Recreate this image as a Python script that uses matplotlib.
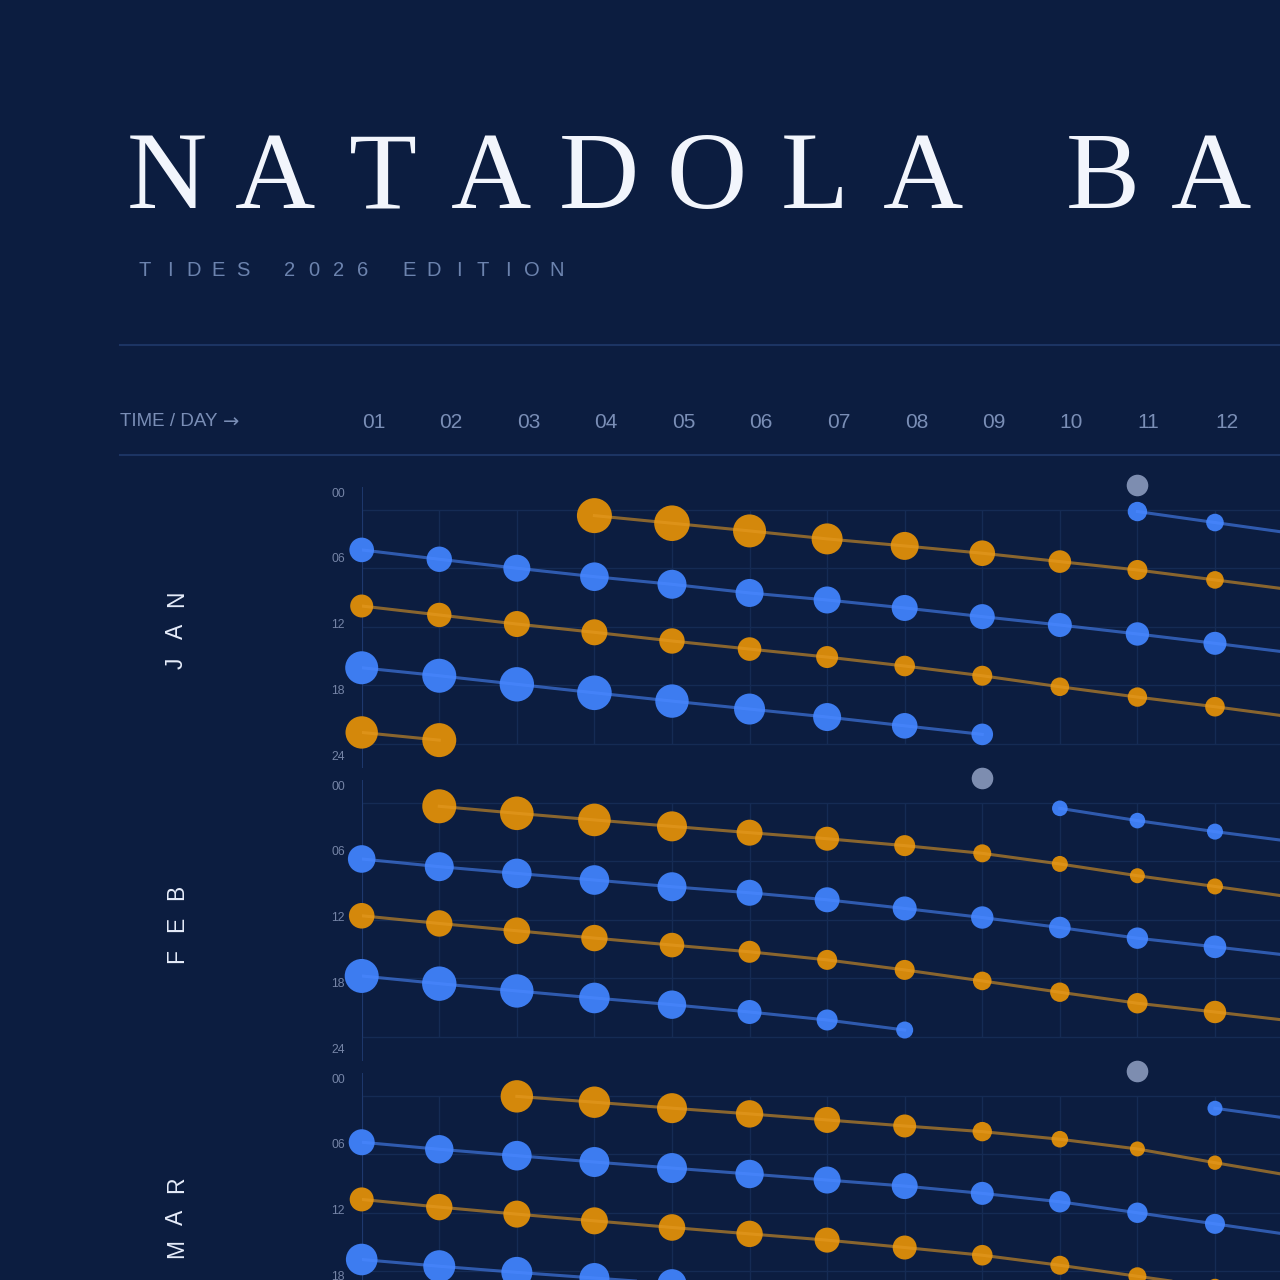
import numpy as np
import matplotlib
matplotlib.use("Agg")
import matplotlib.pyplot as plt
from matplotlib import transforms
from matplotlib.lines import Line2D

nan = np.nan

# days shown on the sheet; day 13 sits just past the right edge (line continuation only)
DAYS = np.arange(1, 14)
DAY_LABELS = [f"{d:02d}" for d in DAYS[:-1]]
HOUR_LABELS = ["00", "06", "12", "18", "24"]
MONTHS = ["JAN", "FEB", "MAR"]

# --- JAN : tide times (hour of day) and tide magnitude (m) ---
jan_hw1_t = [nan, nan, nan, 0.59, 1.37, 2.16, 2.98, 3.70, 4.45, 5.31, 6.17, 7.19, 8.22]
jan_hw1_m = [nan, nan, nan, 1.75, 1.78, 1.65, 1.55, 1.40, 1.28, 1.13, 1.00, 0.88, 0.80]
jan_lw1_t = [4.11, 5.07, 5.99, 6.86, 7.64, 8.53, 9.25, 10.07, 10.96, 11.82, 12.74, 13.70, 14.69]
jan_lw1_m = [1.23, 1.27, 1.35, 1.43, 1.45, 1.40, 1.35, 1.30, 1.25, 1.20, 1.17, 1.15, 1.12]
jan_hw2_t = [9.87, 10.79, 11.72, 12.57, 13.46, 14.29, 15.11, 16.03, 17.03, 18.16, 19.22, 20.21, 21.27]
jan_hw2_m = [1.15, 1.22, 1.30, 1.30, 1.27, 1.18, 1.10, 1.03, 1.00, 0.93, 0.97, 0.98, 1.00]
jan_lw2_t = [16.21, 17.03, 17.91, 18.78, 19.63, 20.45, 21.27, 22.17, 23.05, nan, nan, nan, nan]
jan_lw2_m = [1.65, 1.70, 1.72, 1.73, 1.67, 1.55, 1.40, 1.28, 1.08, nan, nan, nan, nan]
jan_hw3_t = [22.85, 23.64, nan, nan, nan, nan, nan, nan, nan, nan, nan, nan, nan]
jan_hw3_m = [1.62, 1.70, nan, nan, nan, nan, nan, nan, nan, nan, nan, nan, nan]
jan_lw3_t = [nan, nan, nan, nan, nan, nan, nan, nan, nan, nan, 0.17, 1.30, 2.42]
jan_lw3_m = [nan, nan, nan, nan, nan, nan, nan, nan, nan, nan, 0.97, 0.88, 0.80]
jan_moon = [11]

# --- FEB ---
feb_hw1_t = [nan, 0.35, 1.07, 1.75, 2.41, 3.06, 3.68, 4.39, 5.18, 6.27, 7.48, 8.58, 9.69]
feb_hw1_m = [nan, 1.70, 1.68, 1.63, 1.50, 1.30, 1.20, 1.05, 0.90, 0.80, 0.75, 0.80, 0.85]
feb_lw1_t = [5.76, 6.55, 7.24, 7.92, 8.61, 9.23, 9.95, 10.84, 11.77, 12.80, 13.89, 14.78, 15.70]
feb_lw1_m = [1.38, 1.45, 1.48, 1.48, 1.45, 1.30, 1.25, 1.20, 1.12, 1.08, 1.07, 1.13, 1.15]
feb_hw2_t = [11.59, 12.38, 13.13, 13.88, 14.60, 15.29, 16.12, 17.15, 18.28, 19.44, 20.57, 21.47, 22.40]
feb_hw2_m = [1.28, 1.32, 1.33, 1.32, 1.23, 1.10, 1.00, 1.00, 0.93, 0.97, 1.02, 1.12, 1.15]
feb_lw2_t = [17.77, 18.56, 19.31, 20.03, 20.72, 21.47, 22.29, 23.32, nan, nan, nan, nan, nan]
feb_lw2_m = [1.70, 1.72, 1.67, 1.53, 1.42, 1.20, 1.05, 0.85, nan, nan, nan, nan, nan]
feb_lw3_t = [nan, nan, nan, nan, nan, nan, nan, nan, nan, 0.56, 1.82, 2.95, 3.98]
feb_lw3_m = [nan, nan, nan, nan, nan, nan, nan, nan, nan, 0.78, 0.78, 0.80, 0.80]
feb_moon = [9]

# --- MAR ---
mar_hw1_t = [nan, nan, 0.05, 0.65, 1.26, 1.85, 2.47, 3.09, 3.67, 4.45, 5.45, 6.86, 8.22]
mar_hw1_m = [nan, nan, 1.62, 1.57, 1.50, 1.37, 1.30, 1.15, 0.97, 0.83, 0.75, 0.72, 0.70]
mar_lw1_t = [4.76, 5.48, 6.14, 6.79, 7.41, 8.02, 8.64, 9.26, 10.01, 10.87, 12.00, 13.14, 14.30]
mar_lw1_m = [1.30, 1.42, 1.48, 1.50, 1.50, 1.42, 1.35, 1.30, 1.15, 1.07, 1.02, 1.00, 1.00]
mar_hw2_t = [10.63, 11.42, 12.14, 12.83, 13.51, 14.17, 14.81, 15.57, 16.36, 17.39, 18.52, 19.65, 20.80]
mar_hw2_m = [1.20, 1.32, 1.35, 1.35, 1.33, 1.32, 1.25, 1.20, 1.03, 0.95, 0.90, 0.85, 0.85]
mar_lw2_t = [16.80, 17.49, 18.12, 18.70, 19.28, nan, nan, nan, nan, nan, nan, nan, nan]
mar_lw2_m = [1.58, 1.60, 1.55, 1.50, 1.45, nan, nan, nan, nan, nan, nan, nan, nan]
mar_lw3_t = [nan, nan, nan, nan, nan, nan, nan, nan, nan, nan, nan, 1.27, 2.37]
mar_lw3_m = [nan, nan, nan, nan, nan, nan, nan, nan, nan, nan, nan, 0.75, 0.75]
mar_moon = [11]

# colours
BG = "#0c1d40"
HIGH = "#d4880b"
HIGH_LINE = "#e59a22"
LOW = "#3d7cf0"
LOW_LINE = "#4a88ff"
MOON = "#7d8db0"
GRID = "#152b54"
AXLINE = "#1f3a70"
RULE = "#1c3463"
MUTED = "#7a8eb6"

W = H = 1280
fig = plt.figure(figsize=(12.8, 12.8), dpi=100, facecolor=BG)
plt.rcParams["font.family"] = ["Liberation Sans", "DejaVu Sans"]


def px(x, y):
    # pixel coords (top-left origin) -> figure fraction
    return x / W, 1 - y / H


def spaced(x0, y0, text, pitch, gap, vertical=False, **kw):
    # letter-spaced text, one glyph at a time
    pos = 0.0
    for ch in text:
        if ch == " ":
            pos += gap
            continue
        if vertical:
            fig.text(*px(x0, y0 - pos), ch, rotation=90, ha="center", va="center", **kw)
        else:
            fig.text(*px(x0 + pos, y0), ch, ha="center", va="baseline", **kw)
        pos += pitch


# header (the sheet is wider than the page: the title runs off at "BA")
spaced(166.7, 208, "NATADOLA BA", 108, 72, fontsize=80, color="#f2f5fc",
       family="Liberation Serif")
spaced(145, 276, "TIDES 2026 EDITION", 24.5, 22, fontsize=14.5, color="#6c83ae")

for y in (345, 455):
    fig.add_artist(Line2D([120 / W, 1.0], [1 - y / H] * 2, color=RULE, lw=1.5))

fig.text(*px(120, 422), "TIME / DAY", ha="left", va="center",
         fontsize=13.5, color=MUTED)
fig.text(*px(223, 422), "\u2192", ha="left", va="center",
         fontsize=14, color=MUTED, family="DejaVu Sans")

# panels
AX_LEFT = 361.7
DAY_PX = 77.57
PANEL_H = 281
PANEL_TOP = 486.5
PANEL_STEP = 293

month_series = [
    [(jan_hw1_t, jan_hw1_m, "high"), (jan_lw1_t, jan_lw1_m, "low"),
     (jan_hw2_t, jan_hw2_m, "high"), (jan_lw2_t, jan_lw2_m, "low"),
     (jan_hw3_t, jan_hw3_m, "high"), (jan_lw3_t, jan_lw3_m, "low")],
    [(feb_hw1_t, feb_hw1_m, "high"), (feb_lw1_t, feb_lw1_m, "low"),
     (feb_hw2_t, feb_hw2_m, "high"), (feb_lw2_t, feb_lw2_m, "low"),
     (feb_lw3_t, feb_lw3_m, "low")],
    [(mar_hw1_t, mar_hw1_m, "high"), (mar_lw1_t, mar_lw1_m, "low"),
     (mar_hw2_t, mar_hw2_m, "high"), (mar_lw2_t, mar_lw2_m, "low"),
     (mar_lw3_t, mar_lw3_m, "low")],
]
month_moons = [jan_moon, feb_moon, mar_moon]


def dot_size(mag):
    # magnitude -> radius 10 px per metre -> scatter area in pt^2
    r_px = 10 * np.asarray(mag, dtype=float)
    return (2 * r_px * 72 / 100) ** 2


axes = []
for i, month in enumerate(MONTHS):
    top = PANEL_TOP + i * PANEL_STEP
    ax = fig.add_axes([AX_LEFT / W, 1 - (top + PANEL_H) / H,
                       (DAYS[-1] - DAYS[0]) * DAY_PX / W, PANEL_H / H])
    ax.set_xlim(DAYS[0], DAYS[-1])
    ax.set_ylim(26.45, -2.4)
    ax.set_axis_off()
    axes.append(ax)

    ax.hlines([0, 6, 12, 18, 24], DAYS[0], DAYS[-1], color=GRID, lw=1, zorder=1)
    ax.vlines(DAYS, 0, 24, color=GRID, lw=1, zorder=1)
    ax.axvline(DAYS[0], color=AXLINE, lw=1.3, zorder=2)

    for frac, lab in zip(np.linspace(0.975, 0.036, len(HOUR_LABELS)), HOUR_LABELS):
        ax.text(-0.018, frac, lab, transform=ax.transAxes, ha="right", va="center",
                fontsize=8.8, color="#7584a6")

    for t, m, kind in month_series[i]:
        dot = HIGH if kind == "high" else LOW
        line = HIGH_LINE if kind == "high" else LOW_LINE
        ax.scatter(DAYS, t, s=dot_size(m), color=dot, lw=0, zorder=3, clip_on=False)
        ax.plot(DAYS, t, color=line, lw=2.2, alpha=0.58, zorder=4)

    moons = month_moons[i]
    ax.scatter(moons, [-2.55] * len(moons), s=dot_size([1.08] * len(moons)),
               color=MOON, lw=0, zorder=3, clip_on=False)

    # month name, rotated and spaced
    mid = top + PANEL_H / 2 + 4
    spaced(176.5, mid + 32, month, 32, 0, vertical=True, fontsize=16.5,
           color="#e6ecfa")

# day numbers along the top, left-aligned on each column
trans = transforms.blended_transform_factory(axes[0].transData, fig.transFigure)
for d, lab in zip(DAYS, DAY_LABELS):
    fig.text(d, 1 - 422 / H, lab, transform=trans, ha="left", va="center",
             fontsize=15, color=MUTED)

fig.savefig("out.png", dpi=100, facecolor=BG)
